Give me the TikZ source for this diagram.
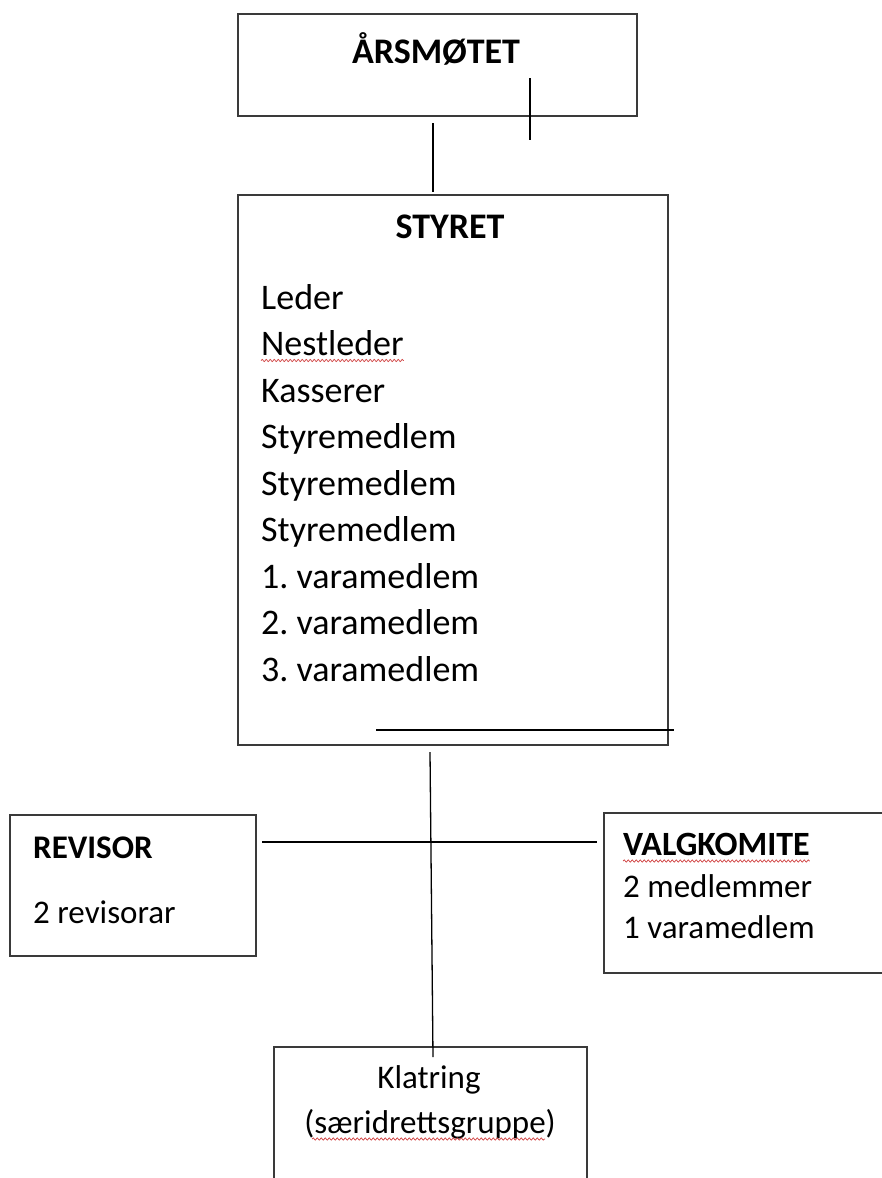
\documentclass[tikz,border=0pt]{standalone}
\usepackage{fontspec}
\setmainfont{Carlito}
\usetikzlibrary{decorations.pathmorphing}
\definecolor{boxline}{HTML}{3A3A3A}
\definecolor{squig}{HTML}{D04040}
\frenchspacing
\begin{document}
\begin{tikzpicture}[x=1pt,y=-1pt,
  orgbox/.style={draw=boxline,line width=1.6pt,rectangle,inner sep=0pt},
  conn/.style={draw=black,line width=1.3pt},
  txt/.style={inner sep=0pt,font=\fontsize{36}{42}\selectfont},
  boldtxt/.style={txt,font=\fontsize{36}{42}\selectfont\bfseries},
  smalltxt/.style={inner sep=0pt,font=\fontsize{33}{40}\selectfont},
  smallbold/.style={inner sep=0pt,font=\fontsize{33}{40}\selectfont\bfseries},
  wavy/.style={draw=squig,line width=0.7pt,decorate,decoration={snake,amplitude=1.1pt,segment length=4pt}}]
\useasboundingbox (0,0) rectangle (881,1178);
% boxes
\node[orgbox,minimum width=399pt,minimum height=102pt] (ars) at (437.5,65) {};
\node[orgbox,minimum width=430pt,minimum height=550pt] (sty) at (453,470) {};
\node[orgbox,minimum width=246pt,minimum height=141pt] (rev) at (133,885.5) {};
\node[orgbox,minimum width=300pt,minimum height=160pt] (val) at (754,893) {};
\node[orgbox,minimum width=313pt,minimum height=160pt] (kla) at (430.5,1127) {};
% texts
\node[boldtxt,anchor=base] (tars) at (436,63) {ÅRSMØTET};
\node[boldtxt,anchor=base] (tsty) at (450,238) {STYRET};
\node[txt,anchor=base west] (l1) at (261,309) {Leder};
\node[txt,anchor=base west] (l2) at (261,355.5) {Nestleder};
\node[txt,anchor=base west] (l3) at (261,402) {Kasserer};
\node[txt,anchor=base west] (l4) at (261,448.5) {Styremedlem};
\node[txt,anchor=base west] (l5) at (261,495) {Styremedlem};
\node[txt,anchor=base west] (l6) at (261,541.5) {Styremedlem};
\node[txt,anchor=base west] (l7) at (261,588) {1. varamedlem};
\node[txt,anchor=base west] (l8) at (261,634.5) {2. varamedlem};
\node[txt,anchor=base west] (l9) at (261,681) {3. varamedlem};
\node[smallbold,anchor=base west] (trev) at (33,858) {REVISOR};
\node[smalltxt,anchor=base west] (trev2) at (33,923) {2 revisorar};
\node[smallbold,font=\fontsize{34}{40}\selectfont\bfseries,anchor=base west] (tval) at (623,855) {VALGKOMITE};
\node[smalltxt,anchor=base west] (tval2) at (623,897) {2 medlemmer};
\node[smalltxt,anchor=base west] (tval3) at (623,938) {1 varamedlem};
\node[smalltxt,anchor=base] (tkla) at (429,1088) {Klatring};
\node[smalltxt,anchor=base] (tkla2) at (430,1133) {(særidrettsgruppe)};
% spelling squiggles
\draw[wavy] ([yshift=-5pt]l2.base west) -- ([yshift=-5pt]l2.base east);
\draw[wavy] ([yshift=-6pt]tval.base west) -- ([yshift=-6pt]tval.base east);
\draw[wavy] (312,1139) -- (545,1139);
% connectors
\coordinate (a1) at (433,123);
\coordinate (a2) at (433,192);
\draw[conn] (a1) -- (a2);
\coordinate (s1) at (430,752);
\coordinate (s2) at (433,1057);
\draw[conn] (s1) -- (s2);
\coordinate (h1) at (262,842);
\coordinate (h2) at (597,842);
\draw[conn] (h1) -- (h2);
% stray lines
\coordinate (x1) at (530,78);
\coordinate (x2) at (530,140);
\draw[conn] (x1) -- (x2);
\coordinate (y1) at (376,730);
\coordinate (y2) at (674,730);
\draw[conn] (y1) -- (y2);
\end{tikzpicture}
\end{document}
